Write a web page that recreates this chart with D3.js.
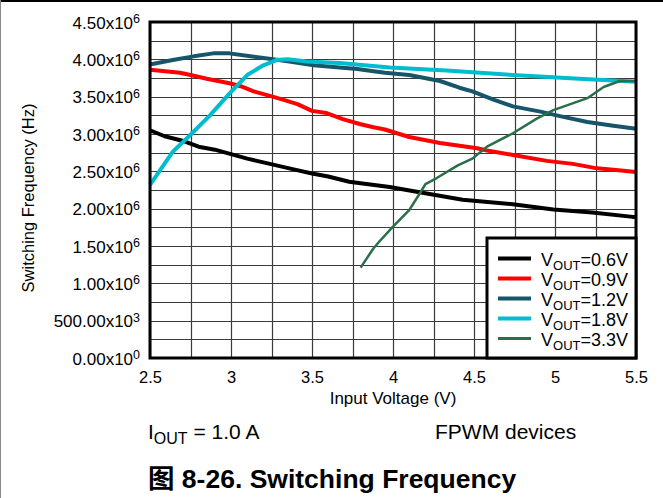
<!DOCTYPE html>
<html>
<head>
<meta charset="utf-8">
<script src="https://cdn.jsdelivr.net/npm/d3@7/dist/d3.min.js"></script>
<style>
  html, body { margin: 0; padding: 0; background: #fff; }
  svg { display: block; font-family: "Liberation Sans", Arial, sans-serif; }
</style>
</head>
<body>
<svg id="chart" width="663" height="498"></svg>
<script>
// ---- data (frequency in units of 1e6 Hz) ----
const xTicks = [2.5, 3, 3.5, 4, 4.5, 5, 5.5];
const yTickValues = [4.5e6, 4.0e6, 3.5e6, 3.0e6, 2.5e6, 2.0e6, 1.5e6, 1.0e6, 0.5e6, 0];
const yTickMantissa = ["4.50", "4.00", "3.50", "3.00", "2.50", "2.00", "1.50", "1.00", "500.00", "0.00"];
const yTickExponent = ["6", "6", "6", "6", "6", "6", "6", "6", "3", "0"];

const seriesNames = ["=0.6V", "=0.9V", "=1.2V", "=1.8V", "=3.3V"];
const seriesColors = ["#000000", "#ff0000", "#17566a", "#00bccf", "#2a6e4a"];

const vin06 = [2.5, 2.59, 2.7, 2.8, 2.9, 3.0, 3.1, 3.2, 3.3, 3.38, 3.5, 3.6, 3.73, 3.8, 3.98, 4.19, 4.43, 4.74, 4.99, 5.23, 5.48, 5.5];
const fsw06 = [3.05, 2.97, 2.91, 2.83, 2.79, 2.73, 2.67, 2.62, 2.57, 2.53, 2.47, 2.43, 2.36, 2.34, 2.29, 2.21, 2.12, 2.06, 1.99, 1.95, 1.89, 1.89];

const vin09 = [2.5, 2.685, 2.75, 2.85, 2.99, 3.06, 3.14, 3.24, 3.32, 3.41, 3.5, 3.59, 3.69, 3.8, 3.88, 3.95, 4.1, 4.29, 4.52, 4.58, 4.74, 4.95, 5.11, 5.26, 5.36, 5.5];
const fsw09 = [3.86, 3.82, 3.79, 3.74, 3.68, 3.64, 3.57, 3.51, 3.46, 3.4, 3.31, 3.28, 3.2, 3.13, 3.09, 3.06, 2.96, 2.88, 2.81, 2.78, 2.72, 2.64, 2.6, 2.54, 2.52, 2.49];

const vin12 = [2.5, 2.64, 2.77, 2.89, 2.99, 3.12, 3.26, 3.36, 3.51, 3.67, 3.78, 3.88, 3.95, 4.1, 4.29, 4.41, 4.49, 4.62, 4.74, 4.91, 5.03, 5.2, 5.36, 5.5];
const fsw12 = [3.93, 3.99, 4.04, 4.08, 4.08, 4.04, 4.0, 3.97, 3.92, 3.89, 3.87, 3.84, 3.82, 3.79, 3.71, 3.62, 3.57, 3.46, 3.37, 3.3, 3.24, 3.16, 3.11, 3.07];

const vin18 = [2.5, 2.64, 2.75, 2.87, 2.99, 3.1, 3.2, 3.28, 3.35, 3.47, 3.67, 3.98, 4.33, 4.74, 5.15, 5.5];
const fsw18 = [2.32, 2.76, 2.99, 3.25, 3.54, 3.79, 3.92, 3.99, 4.0, 3.97, 3.95, 3.89, 3.85, 3.79, 3.74, 3.7];

const vin33 = [3.8, 3.88, 3.92, 4.0, 4.1, 4.17, 4.2, 4.27, 4.4, 4.49, 4.58, 4.74, 4.89, 4.99, 5.2, 5.3, 5.4, 5.5];
const fsw33 = [1.21, 1.47, 1.57, 1.76, 1.98, 2.22, 2.33, 2.41, 2.58, 2.67, 2.83, 3.01, 3.21, 3.32, 3.48, 3.63, 3.71, 3.71];

const series = [
  { name: seriesNames[0], color: seriesColors[0], width: 4, x: vin06, y: fsw06 },
  { name: seriesNames[1], color: seriesColors[1], width: 4, x: vin09, y: fsw09 },
  { name: seriesNames[2], color: seriesColors[2], width: 4, x: vin12, y: fsw12 },
  { name: seriesNames[3], color: seriesColors[3], width: 4, x: vin18, y: fsw18 },
  { name: seriesNames[4], color: seriesColors[4], width: 2.5, x: vin33, y: fsw33 }
];

// ---- layout ----
const svg = d3.select("#chart");
const L = 150, R = 636, T = 22, B = 358;

const x = d3.scaleLinear().domain([2.5, 5.5]).range([L, R]);
const y = d3.scaleLinear().domain([0, 4.5e6]).range([B, T]);

// outer figure frame
svg.append("line").attr("x1", 0).attr("x2", 663).attr("y1", 1).attr("y2", 1)
  .attr("stroke", "#000").attr("stroke-width", 2);
svg.append("line").attr("x1", 0.5).attr("x2", 0.5).attr("y1", 0).attr("y2", 498)
  .attr("stroke", "#888").attr("stroke-width", 1);

// grid
const gridX = d3.range(2.5, 5.5001, 0.25);
const gridY = d3.range(0, 4.5e6 + 1, 0.25e6);
const grid = svg.append("g");
grid.selectAll("line.gx").data(gridX).join("line")
  .attr("x1", d => Math.round(x(d)) + 0.5).attr("x2", d => Math.round(x(d)) + 0.5)
  .attr("y1", T).attr("y2", B)
  .attr("stroke", "#3a3a3a").attr("stroke-width", 1.2);
grid.selectAll("line.gy").data(gridY).join("line")
  .attr("y1", d => Math.round(y(d)) + 0.5).attr("y2", d => Math.round(y(d)) + 0.5)
  .attr("x1", L).attr("x2", R)
  .attr("stroke", "#3a3a3a").attr("stroke-width", 1.2);

// series lines
const line = d3.line().x(d => x(d[0])).y(d => y(d[1] * 1e6)).curve(d3.curveLinear);
svg.append("g").selectAll("path").data(series).join("path")
  .attr("d", s => line(s.x.map((v, i) => [v, s.y[i]])))
  .attr("fill", "none")
  .attr("stroke", s => s.color)
  .attr("stroke-width", s => s.width)
  .attr("stroke-linejoin", "round");

// plot frame
svg.append("rect").attr("x", L).attr("y", T).attr("width", R - L).attr("height", B - T)
  .attr("fill", "none").attr("stroke", "#000").attr("stroke-width", 3);

// y axis labels
const yAxis = d3.axisLeft(y).tickValues(yTickValues).tickSize(0).tickFormat("");
const gy = svg.append("g").attr("transform", `translate(${L},0)`).call(yAxis);
gy.select(".domain").remove();
gy.selectAll(".tick").each(function(d, i) {
  const t = d3.select(this).append("text")
    .attr("x", -10).attr("dy", "0.36em")
    .attr("text-anchor", "end").attr("fill", "#000")
    .style("font-size", "17px");
  t.append("tspan").text(yTickMantissa[i] + "x10");
  t.append("tspan").attr("dy", "-0.45em").style("font-size", "12.5px").text(yTickExponent[i]);
});

// x axis labels
const xAxis = d3.axisBottom(x).tickValues(xTicks).tickSize(0).tickPadding(13).tickFormat(d3.format("~g"));
const gx = svg.append("g").attr("transform", `translate(0,${B})`).call(xAxis);
gx.select(".domain").remove();
gx.selectAll("text").attr("fill", "#000").style("font-size", "16.5px")
  .style("font-family", "'Liberation Sans', Arial, sans-serif");

// axis titles
svg.append("text").attr("x", 393).attr("y", 404).attr("text-anchor", "middle")
  .style("font-size", "17px").text("Input Voltage (V)");
svg.append("text").attr("transform", `translate(34,${(T + B) / 2 + 8}) rotate(-90)`)
  .attr("text-anchor", "middle").style("font-size", "16.5px").text("Switching Frequency (Hz)");

// legend
const lg = svg.append("g");
lg.append("rect").attr("x", 487).attr("y", 238).attr("width", R - 487).attr("height", B - 238)
  .attr("fill", "#fff").attr("stroke", "#000").attr("stroke-width", 3);
series.forEach((s, i) => {
  const yy = 258.5 + i * 20;
  lg.append("line").attr("x1", 498).attr("x2", 531).attr("y1", yy).attr("y2", yy)
    .attr("stroke", s.color).attr("stroke-width", i === 4 ? 3 : 4);
  const t = lg.append("text").attr("x", 541).attr("y", yy + 7).style("font-size", "18px");
  t.append("tspan").text("V");
  t.append("tspan").attr("dy", 4).style("font-size", "13px").text("OUT");
  t.append("tspan").attr("dy", -4).text(s.name);
});

// footnotes
const n1 = svg.append("text").attr("x", 148).attr("y", 439).style("font-size", "21px");
n1.append("tspan").text("I");
n1.append("tspan").attr("dy", 5).style("font-size", "16px").text("OUT");
n1.append("tspan").attr("dy", -5).text(" = 1.0 A");
svg.append("text").attr("x", 435).attr("y", 439).style("font-size", "21px").text("FPWM devices");

svg.append("text").attr("x", 148).attr("y", 488)
  .style("font-size", "26.5px").style("font-weight", "bold")
  .style("font-family", "'Liberation Sans', 'Noto Sans CJK SC', sans-serif")
  .text("图 8-26. Switching Frequency");
</script>
</body>
</html>
